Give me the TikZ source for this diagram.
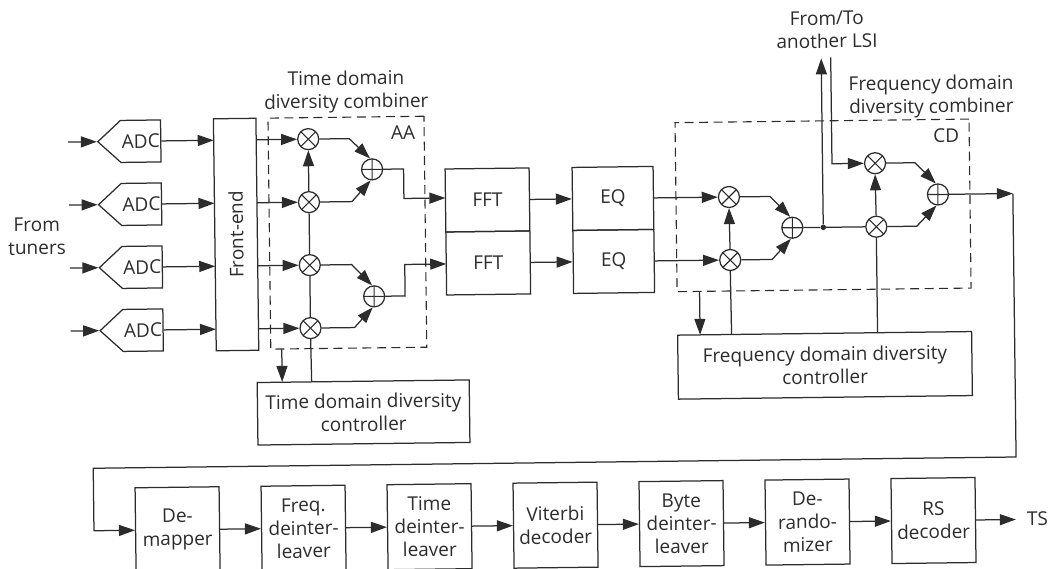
\documentclass[tikz,border=0pt]{standalone}
\usepackage{fontspec}
\setmainfont{Open Sans}
\usetikzlibrary{arrows.meta,shapes.symbols}
\definecolor{ink}{HTML}{2c2c2c}
\tikzset{
  wire/.style={draw=ink,line width=1.25pt,-{Triangle[length=16pt,width=11pt]}},
  plainwire/.style={draw=ink,line width=1.25pt},
  txt/.style={text=ink,font=\fontsize{19}{23}\selectfont,align=center,inner sep=0pt},
  blockbox/.style={txt,draw=ink,line width=1.25pt,rectangle,minimum width=#1,inner sep=0pt},
  rowbox/.style={blockbox=84pt,minimum height=85pt},
  adcbox/.style={txt,draw=ink,line width=1.25pt,signal,signal to=west,signal pointer angle=85,minimum width=63pt,minimum height=42pt},
  mult/.style={circle,draw=ink,line width=1.25pt,minimum size=21pt,inner sep=0pt,
    path picture={\draw[ink,line width=1.1pt] (path picture bounding box.north west)--(path picture bounding box.south east)
      (path picture bounding box.north east)--(path picture bounding box.south west);}},
  adder/.style={circle,draw=ink,line width=1.25pt,minimum size=21pt,inner sep=0pt,
    path picture={\draw[ink,line width=1.1pt] (path picture bounding box.north)--(path picture bounding box.south)
      (path picture bounding box.east)--(path picture bounding box.west);}},
  dashbox/.style={rectangle,draw=ink,line width=1.1pt,dash pattern=on 9pt off 5.5pt,inner sep=0pt},
}
\begin{document}
\begin{tikzpicture}[x=1pt,y=-1pt]
\useasboundingbox (0,0) rectangle (1052,569);
\begin{scope}[rotate around={0.7:(526,284)},transform shape]
% ADC row
\foreach \n/\y in {1/136.5,2/199.5,3/262.5,4/325.5}{
  \node[adcbox] (adc\n) at (142.5,\y) {ADC};
  \coordinate (in\n) at (70,\y);
  \coordinate (fi\n) at (215.5,\y);
  \coordinate (fo\n) at (258,\y);
  \node[mult] (m\n) at (310,\y) {};
  \draw[wire] (in\n) -- (adc\n.west);
  \draw[wire] (adc\n.east) -- (fi\n);
  \draw[wire] (fo\n) -- (m\n.west);
}
\node[blockbox=232pt,minimum height=42.5pt,rotate=90] (fe) at (236.7,231) {Front-end};
\node[txt] (tuners) at (37.5,230.5) {From\\tuners};
% time combiner
\node[adder] (a1) at (373.5,167.5) {};
\node[adder] (a2) at (374,294.5) {};
\coordinate (b1) at (351,136.5); \coordinate (b2) at (353,199.5);
\coordinate (b3) at (352,262.5); \coordinate (b4) at (354,325.5);
\draw[wire] (m1.east) -- (b1) -- (a1.100);
\draw[wire] (m2.east) -- (b2) -- (a1.262);
\draw[wire] (m3.east) -- (b3) -- (a2.100);
\draw[wire] (m4.east) -- (b4) -- (a2.262);
\draw[wire] (m2.north) -- (m1.south);
\draw[plainwire] (m2.south) -- (m3.north);
\draw[plainwire] (m3.south) -- (m4.north);
\node[dashbox,minimum width=156pt,minimum height=231pt] (aa) at (348,230.5) {};
\node[txt] (aalab) at (405,131.5) {AA};
\node[txt] (tcap) at (348.5,89.5) {Time domain\\diversity combiner};
% time controller
\node[blockbox=212pt,minimum height=62.5pt] (tc) at (362,410.5) {Time domain diversity\\controller};
\coordinate (aab) at (281,346); \coordinate (tcin) at (281,379);
\draw[wire] (aab) -- (tcin);
\coordinate (tcup) at (310.5,379);
\draw[plainwire] (tcup) -- (m4.south);
% FFT and EQ
\node[blockbox=84pt,minimum height=63pt] (fft1) at (488.5,199.5) {FFT};
\node[blockbox=84pt,minimum height=63pt] (fft2) at (488.5,262.5) {FFT};
\node[blockbox=81pt,minimum height=63pt] (eq1) at (614,199.5) {EQ};
\node[blockbox=81pt,minimum height=63pt] (eq2) at (614,262.5) {EQ};
\coordinate (c1) at (405,167.5); \coordinate (c2) at (405,197); \coordinate (f1in) at (446.5,197);
\coordinate (c3) at (405,294.5); \coordinate (c4) at (405,263); \coordinate (f2in) at (446.5,263);
\draw[wire] (a1.east) -- (c1) -- (c2) -- (f1in);
\draw[wire] (a2.east) -- (c3) -- (c4) -- (f2in);
\draw[wire] (fft1.east) -- (eq1.west);
\draw[wire] (fft2.east) -- (eq2.west);
% frequency combiner
\node[mult] (n1) at (730,199.5) {};
\node[mult] (n2) at (730.5,262.5) {};
\node[adder] (a3) at (793,231) {};
\node[mult] (n3) at (876.5,167.5) {};
\node[mult] (n4) at (877,231) {};
\node[adder] (a4) at (939,199.5) {};
\node[circle,fill=ink,minimum size=5.5pt,inner sep=0pt] (jn) at (824,231) {};
\draw[wire] (eq1.east) -- (n1.west);
\draw[wire] (eq2.east) -- (n2.west);
\draw[wire] (n2.north) -- (n1.south);
\coordinate (d1) at (771,199.5); \coordinate (d2) at (772.5,262.5);
\coordinate (d3) at (916.5,167.5); \coordinate (d4) at (917.5,231);
\draw[wire] (n1.east) -- (d1) -- (a3.100);
\draw[wire] (n2.east) -- (d2) -- (a3.262);
\draw[wire] (n3.east) -- (d3) -- (a4.100);
\draw[wire] (n4.east) -- (d4) -- (a4.262);
\draw[wire] (n4.north) -- (n3.south);
\draw[plainwire] (a3.east) -- (jn) -- (n4.west);
\coordinate (up) at (824,62);
\draw[wire] (jn) -- (up);
\coordinate (dn0) at (833.5,61); \coordinate (dn1) at (833.5,167.5);
\draw[wire] (dn0) -- (dn1) -- (n3.west);
\node[dashbox,minimum width=294pt,minimum height=169pt] (cd) at (824,209) {};
\node[txt] (cdlab) at (948,141) {CD};
\node[txt] (fcap) at (933.5,101.5) {Frequency domain\\diversity combiner};
\node[txt] (lsi) at (830,33.5) {From/To\\another LSI};
% frequency controller
\node[blockbox=294pt,minimum height=64pt] (fc) at (824,369) {Frequency domain diversity\\controller};
\coordinate (cdb) at (699.5,293.5); \coordinate (fcin) at (699.5,337);
\draw[wire] (cdb) -- (fcin);
\coordinate (fcup1) at (731,337); \coordinate (fcup2) at (877,337);
\draw[plainwire] (fcup1) -- (n2.south);
\draw[plainwire] (fcup2) -- (n4.south);
% feedback to second row
\coordinate (o1) at (1014,199.5);
\coordinate (o2) at (1014,463);
\coordinate (o3) at (91,463);
\coordinate (o4) at (91,525.5);
\draw[wire] (a4.east) -- (o1);
\draw[plainwire] (o1) -- (o2) -- (o3) -- (o4);
% second row
\node[rowbox] (s1) at (174.6,525.5) {De-\\mapper};
\node[rowbox] (s2) at (300.6,525.5) {Freq.\\deinter-\\leaver};
\node[rowbox] (s3) at (426.6,525.5) {Time\\deinter-\\leaver};
\node[rowbox] (s4) at (552.6,525.5) {Viterbi\\decoder};
\node[rowbox] (s5) at (678.6,525.5) {Byte\\deinter-\\leaver};
\node[rowbox] (s6) at (804.6,525.5) {De-\\rando-\\mizer};
\node[rowbox] (s7) at (930.6,525.5) {RS\\decoder};
\draw[wire] (o4) -- (s1.west);
\draw[wire] (s1.east) -- (s2.west);
\draw[wire] (s2.east) -- (s3.west);
\draw[wire] (s3.east) -- (s4.west);
\draw[wire] (s4.east) -- (s5.west);
\draw[wire] (s5.east) -- (s6.west);
\draw[wire] (s6.east) -- (s7.west);
\node[txt,anchor=west] (ts) at (1024,525) {TS};
\coordinate (tsin) at (1013,525.5);
\draw[wire] (s7.east) -- (tsin);
\end{scope}
\end{tikzpicture}
\end{document}
